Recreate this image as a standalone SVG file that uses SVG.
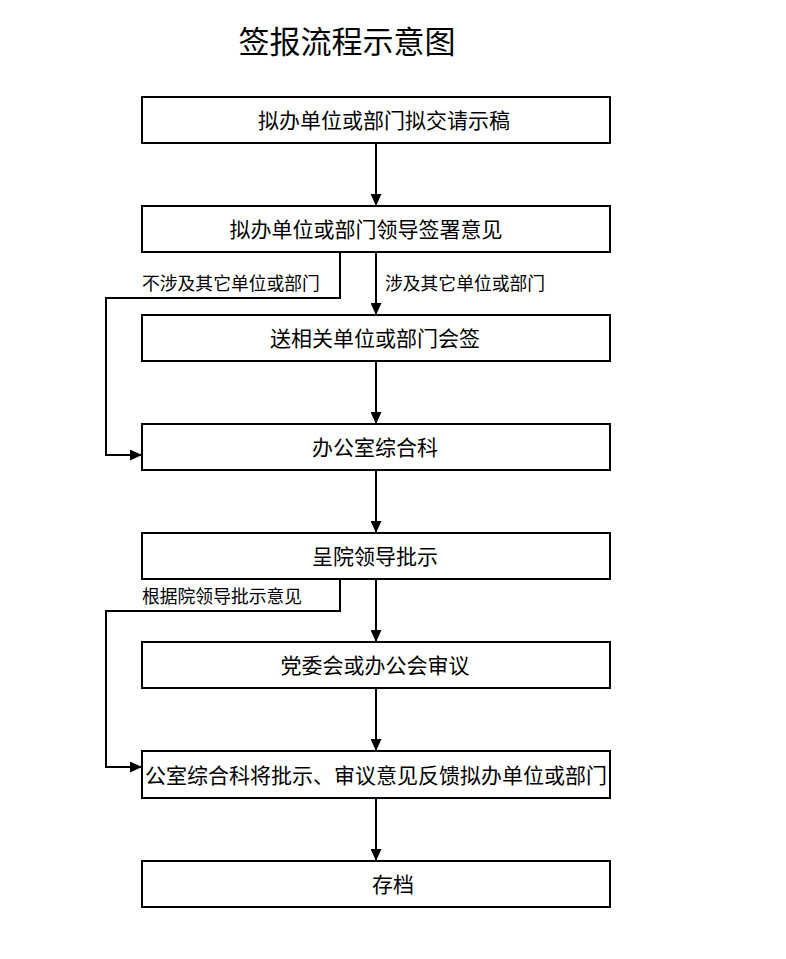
<svg xmlns="http://www.w3.org/2000/svg" width="786" height="959" viewBox="0 0 786 959">
<style>
.box{fill:#fff;stroke:#000;stroke-width:2}
.t{font-family:"Noto Sans CJK SC","Noto Sans CJK JP",sans-serif;font-size:21px;fill:#000;text-anchor:middle;dominant-baseline:central}
.lbl{font-family:"Noto Sans CJK SC","Noto Sans CJK JP",sans-serif;font-size:17.8px;fill:#000;dominant-baseline:central}
.ln{fill:none;stroke:#000;stroke-width:2}
</style>
<defs>
<marker id="ah" viewBox="0 0 12 11" refX="12" refY="5.5" markerWidth="12" markerHeight="11" markerUnits="userSpaceOnUse" orient="auto">
<path d="M0,0 L12,5.5 L0,11 z" fill="#000"/>
</marker>
</defs>
<rect width="786" height="959" fill="#fff"/>
<text x="347" y="39" font-family="Noto Sans CJK SC,sans-serif" font-size="31" text-anchor="middle" dominant-baseline="central">签报流程示意图</text>
<g id="connectors">
<line class="ln" x1="376" y1="143" x2="376" y2="206" marker-end="url(#ah)"/>
<line class="ln" x1="376" y1="252" x2="376" y2="315" marker-end="url(#ah)"/>
<line class="ln" x1="376" y1="361" x2="376" y2="424" marker-end="url(#ah)"/>
<line class="ln" x1="376" y1="470" x2="376" y2="533" marker-end="url(#ah)"/>
<line class="ln" x1="376" y1="579" x2="376" y2="642" marker-end="url(#ah)"/>
<line class="ln" x1="376" y1="688" x2="376" y2="751" marker-end="url(#ah)"/>
<line class="ln" x1="376" y1="798" x2="376" y2="861" marker-end="url(#ah)"/>
<polyline class="ln" points="340,252 340,298 106,298 106,455 142,455" marker-end="url(#ah)"/>
<polyline class="ln" points="340,579 340,611 106,611 106,767 142,767" marker-end="url(#ah)"/>
<text class="lbl" x="142" y="282">不涉及其它单位或部门</text>
<text class="lbl" x="385" y="282">涉及其它单位或部门</text>
<text class="lbl" x="142" y="595">根据院领导批示意见</text>
</g>
<g id="n1"><rect class="box" x="142" y="97" width="468" height="46"/><text class="t" x="384" y="118.5">拟办单位或部门拟交请示稿</text></g>
<g id="n2"><rect class="box" x="142" y="206" width="468" height="46"/><text class="t" x="366" y="227.5">拟办单位或部门领导签署意见</text></g>
<g id="n3"><rect class="box" x="142" y="315" width="468" height="46"/><text class="t" x="375" y="336.5">送相关单位或部门会签</text></g>
<g id="n4"><rect class="box" x="142" y="424" width="468" height="46"/><text class="t" x="375" y="445.5">办公室综合科</text></g>
<g id="n5"><rect class="box" x="142" y="533" width="468" height="46"/><text class="t" x="375" y="554.5">呈院领导批示</text></g>
<g id="n6"><rect class="box" x="142" y="642" width="468" height="46"/><text class="t" x="375" y="663.5">党委会或办公会审议</text></g>
<g id="n7"><rect class="box" x="142" y="751" width="468" height="47"/><text class="t" x="376" y="773.5">公室综合科将批示、审议意见反馈拟办单位或部门</text></g>
<g id="n8"><rect class="box" x="142" y="861" width="468" height="46"/><text class="t" x="393" y="882.5">存档</text></g>
</svg>
